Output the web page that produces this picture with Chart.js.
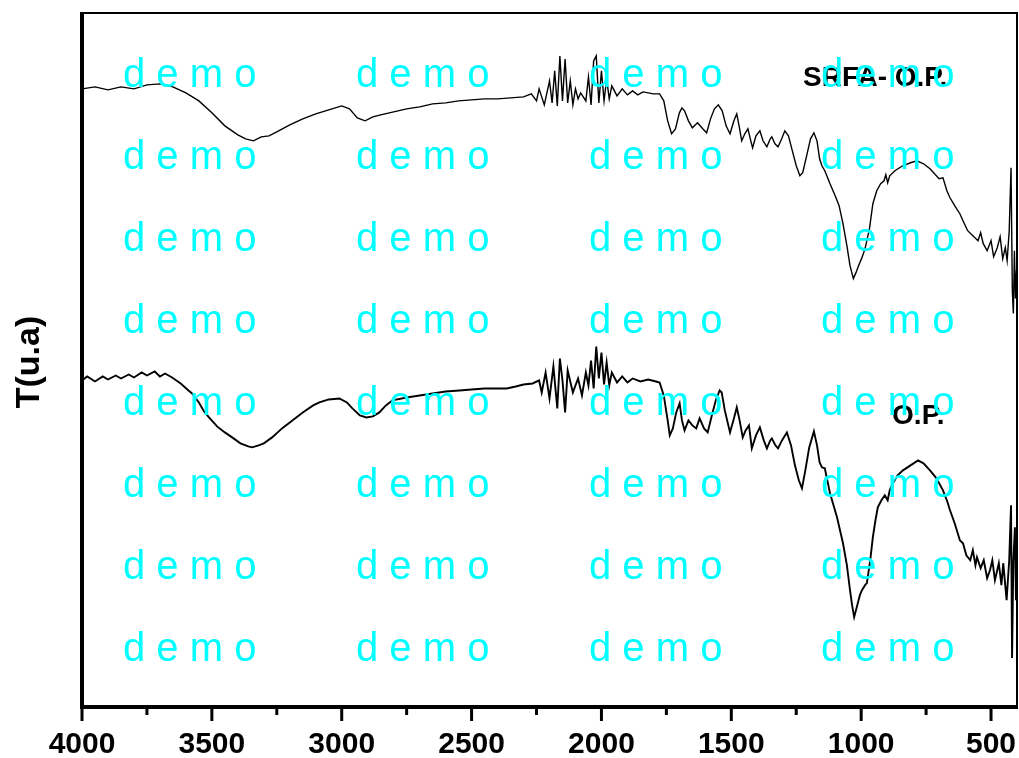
<!DOCTYPE html>
<html>
<head>
<meta charset="utf-8">
<script src="https://cdn.jsdelivr.net/npm/chart.js"></script>
<style>
  html, body { margin: 0; padding: 0; background: #fff; }
  canvas { display: block; }
</style>
</head>
<body>
<canvas id="ftirChart" width="1019" height="758"></canvas>
<script>
// wavenumber (cm-1), transmittance (arbitrary units)
const srfaOP = [
  [4000,123.8],[3950,124.2],[3900,123.6],[3850,124.2],[3800,123.8],[3750,124.6],[3700,124.8],[3650,124.2],
  [3600,123.0],[3550,121.4],[3500,119.0],[3450,116.4],[3400,114.6],[3370,113.8],[3340,113.4],[3310,114.2],
  [3280,114.4],[3250,115.2],[3200,116.6],[3150,117.8],[3100,118.8],[3050,119.6],[3000,120.4],[2970,119.8],
  [2940,118.0],[2910,117.4],[2880,118.2],[2850,118.6],[2800,119.2],[2750,119.8],[2700,120.2],[2650,120.8],
  [2600,121.0],[2550,121.4],[2500,121.6],[2450,121.8],[2400,121.8],[2350,122.0],[2300,122.2],[2270,122.8],
  [2250,121.4],[2240,123.8],[2220,120.6],[2200,125.4],[2190,121.0],[2180,127.4],[2170,120.4],[2160,130.4],
  [2150,121.4],[2140,129.8],[2130,121.0],[2120,125.4],[2110,120.6],[2100,123.8],[2090,121.8],[2080,123.0],
  [2060,121.4],[2050,126.2],[2040,120.6],[2030,129.4],[2020,130.4],[2010,121.0],[2000,127.4],[1990,121.4],
  [1980,125.8],[1970,121.8],[1960,124.4],[1940,122.4],[1920,123.8],[1900,122.6],[1880,123.4],[1860,122.6],
  [1840,123.2],[1800,122.8],[1776,122.8],[1760,121.4],[1745,117.4],[1730,114.8],[1715,115.8],[1700,119.0],
  [1690,120.0],[1680,119.4],[1665,117.4],[1650,116.0],[1630,117.0],[1610,115.8],[1595,115.0],[1580,117.8],
  [1565,119.8],[1550,120.6],[1535,119.4],[1520,116.4],[1505,114.8],[1490,117.4],[1479,118.8],[1470,116.4],
  [1460,113.4],[1448,114.8],[1436,115.8],[1425,113.4],[1418,112.0],[1405,114.4],[1390,115.4],[1378,113.4],
  [1363,112.2],[1350,113.8],[1344,114.2],[1332,112.8],[1320,112.2],[1306,113.8],[1294,115.4],[1280,114.4],
  [1265,111.4],[1250,108.4],[1236,106.4],[1225,107.0],[1210,110.4],[1195,113.8],[1182,115.0],[1170,113.4],
  [1160,109.8],[1151,108.4],[1140,107.4],[1120,104.8],[1100,102.4],[1085,100.4],[1070,96.8],[1055,92.4],
  [1043,88.4],[1030,85.8],[1020,87.0],[1010,88.4],[997,90.0],[985,91.8],[968,95.8],[955,100.8],
  [940,103.4],[925,104.8],[912,105.4],[905,106.6],[898,105.0],[890,106.4],[870,107.4],[840,108.4],
  [810,109.0],[785,109.4],[760,108.8],[735,107.8],[700,105.8],[685,106.0],[670,103.4],[658,102.0],
  [640,100.4],[620,98.8],[608,97.4],[590,95.4],[570,94.4],[550,93.4],[540,95.0],[530,92.8],
  [515,91.4],[500,93.4],[490,90.2],[476,92.0],[465,94.2],[455,89.8],[445,92.0],[438,89.4],
  [430,95.4],[423,108.0],[418,83.4],[414,78.8],[410,91.4],[406,81.8],[402,87.4]
];

const op = [
  [4000,65.4],[3980,66.2],[3950,65.2],[3920,66.2],[3900,65.6],[3870,66.4],[3850,65.8],[3820,66.6],
  [3800,66.0],[3770,67.0],[3750,66.4],[3720,67.2],[3700,66.2],[3680,66.8],[3653,66.0],[3620,64.8],
  [3590,63.4],[3576,62.8],[3550,61.0],[3530,59.2],[3511,58.0],[3480,56.2],[3450,55.0],[3422,54.0],
  [3390,52.8],[3360,52.2],[3345,52.0],[3320,52.4],[3300,52.8],[3268,54.0],[3230,55.8],[3190,57.4],
  [3150,59.0],[3110,60.4],[3086,61.0],[3050,61.6],[3009,61.8],[2980,61.0],[2959,59.8],[2930,58.4],
  [2905,58.0],[2880,58.2],[2855,59.0],[2830,60.4],[2805,61.4],[2750,62.0],[2700,62.4],[2650,62.8],
  [2600,63.2],[2547,63.4],[2500,63.6],[2450,63.8],[2400,63.8],[2365,63.8],[2330,64.2],[2300,64.6],
  [2265,64.8],[2240,65.4],[2230,63.0],[2215,67.0],[2200,61.8],[2185,68.2],[2170,59.8],[2160,69.8],
  [2150,65.4],[2140,59.0],[2130,67.4],[2110,63.0],[2090,65.8],[2075,62.4],[2060,67.0],[2050,64.4],
  [2040,69.4],[2030,63.8],[2020,72.2],[2010,65.8],[2000,71.0],[1990,64.6],[1980,69.0],[1970,64.4],
  [1960,67.0],[1940,65.0],[1920,66.2],[1900,65.0],[1880,65.8],[1850,65.2],[1820,65.6],[1790,65.2],
  [1776,65.0],[1760,62.4],[1745,57.4],[1737,54.4],[1725,55.8],[1712,59.0],[1699,60.8],[1690,57.4],
  [1680,55.4],[1665,57.4],[1650,56.4],[1635,55.8],[1622,57.8],[1605,55.8],[1591,55.0],[1575,58.4],
  [1560,61.4],[1545,63.4],[1537,63.0],[1525,59.4],[1505,55.0],[1490,57.8],[1479,60.0],[1468,57.4],
  [1456,54.0],[1445,55.4],[1432,56.4],[1421,51.8],[1405,54.4],[1390,56.0],[1375,53.4],[1363,51.8],
  [1350,53.4],[1344,53.8],[1330,52.4],[1320,51.8],[1305,53.4],[1286,55.0],[1270,52.4],[1255,48.4],
  [1240,45.4],[1228,43.8],[1215,47.4],[1200,52.0],[1182,55.2],[1170,52.4],[1160,49.0],[1151,48.0],
  [1140,47.8],[1120,42.8],[1093,38.0],[1070,32.8],[1055,28.4],[1043,23.4],[1035,20.4],[1027,18.0],
  [1015,20.4],[1005,22.4],[997,23.4],[985,24.4],[978,24.8],[965,29.4],[955,34.0],[945,37.4],
  [936,40.0],[922,41.4],[909,42.4],[898,41.4],[890,43.4],[882,44.4],[860,46.4],[839,47.4],
  [810,48.4],[781,49.4],[760,48.8],[735,47.4],[710,45.8],[685,43.4],[670,41.4],[658,39.4],
  [640,36.8],[620,33.4],[608,32.8],[595,30.4],[580,29.4],[570,31.4],[560,28.4],[554,30.0],
  [540,27.8],[528,29.4],[515,25.8],[504,27.4],[495,29.4],[485,25.4],[470,28.8],[460,24.4],
  [453,28.8],[440,21.4],[430,29.4],[423,40.4],[419,9.8],[414,29.4],[408,36.0],[404,21.4]
];

const majorTicks = [4000, 3500, 3000, 2500, 2000, 1500, 1000, 500];
const minorTicks = [3750, 3250, 2750, 2250, 1750, 1250, 750];

const curveLabels = [
  { text: 'SRFA- O.P.', x: 1224, y: 124.4 },
  { text: 'O.P.', x: 881, y: 56.6 }
];

const toPoints = arr => arr.map(p => ({ x: p[0], y: p[1] }));

const framePlugin = {
  id: 'frame',
  afterDraw(chart) {
    const c = chart.ctx;
    const a = chart.chartArea;
    const xs = chart.scales.x;
    const ys = chart.scales.y;
    c.save();
    c.strokeStyle = '#000';
    c.lineCap = 'butt';
    // thin top / right
    c.lineWidth = 2;
    c.beginPath();
    c.moveTo(a.left, a.top); c.lineTo(a.right, a.top); c.lineTo(a.right, a.bottom);
    c.stroke();
    // thick left / bottom
    c.lineWidth = 4;
    c.beginPath();
    c.moveTo(a.left, a.top - 1); c.lineTo(a.left, a.bottom + 2);
    c.moveTo(a.left - 2, a.bottom); c.lineTo(a.right + 1, a.bottom);
    c.stroke();
    // ticks
    c.lineWidth = 3;
    majorTicks.forEach(v => {
      const px = xs.getPixelForValue(v);
      c.beginPath(); c.moveTo(px, a.bottom); c.lineTo(px, a.bottom + 14); c.stroke();
    });
    minorTicks.forEach(v => {
      const px = xs.getPixelForValue(v);
      c.beginPath(); c.moveTo(px, a.bottom); c.lineTo(px, a.bottom + 8); c.stroke();
    });

    // curve labels
    c.fillStyle = '#000';
    c.font = 'bold 28px "Liberation Sans", Arial, sans-serif';
    c.textBaseline = 'alphabetic';
    c.textAlign = 'left';
    curveLabels.forEach(l => {
      c.fillText(l.text, xs.getPixelForValue(l.x), ys.getPixelForValue(l.y));
    });

    // y title
    c.save();
    c.translate(30, 362);
    c.rotate(-Math.PI / 2);
    c.textAlign = 'center';
    c.textBaseline = 'middle';
    c.font = 'bold 34px "Liberation Sans", Arial, sans-serif';
    c.fillText('T(u.a)', 0, 0);
    c.restore();

    // watermark
    c.fillStyle = '#00ffff';
    c.font = '40px "Liberation Sans", Arial, sans-serif';
    c.textAlign = 'left';
    c.textBaseline = 'alphabetic';
    const cols = [123, 356, 589, 821];
    for (let r = 0; r < 8; r++) {
      cols.forEach(cx => c.fillText('d e m o', cx, 87 + r * 82));
    }
    c.restore();
  }
};

new Chart(document.getElementById('ftirChart'), {
  type: 'line',
  data: {
    datasets: [
      {
        label: 'SRFA- O.P.',
        data: toPoints(srfaOP),
        borderColor: '#000',
        borderWidth: 1.4,
        pointRadius: 0,
        tension: 0
      },
      {
        label: 'O.P.',
        data: toPoints(op),
        borderColor: '#000',
        borderWidth: 1.9,
        pointRadius: 0,
        tension: 0
      }
    ]
  },
  options: {
    responsive: false,
    animation: false,
    devicePixelRatio: 1,
    layout: { padding: { left: 82, right: 2, top: 13, bottom: 0 } },
    plugins: {
      legend: { display: false },
      tooltip: { enabled: false }
    },
    scales: {
      x: {
        type: 'linear',
        reverse: true,
        min: 400,
        max: 4000,
        grid: { display: false, drawTicks: false },
        border: { display: false },
        afterBuildTicks(scale) {
          scale.ticks = majorTicks.map(v => ({ value: v }));
        },
        afterFit(scale) {
          scale.height = 51;
          scale.paddingLeft = 0;
          scale.paddingRight = 0;
        },
        ticks: {
          autoSkip: false,
          maxRotation: 0,
          padding: 20,
          color: '#000',
          font: { family: '"Liberation Sans", Arial, sans-serif', size: 30, weight: 'bold' },
          callback: v => String(v)
        }
      },
      y: {
        display: false,
        min: 0,
        max: 139
      }
    }
  },
  plugins: [framePlugin]
});
</script>
</body>
</html>
